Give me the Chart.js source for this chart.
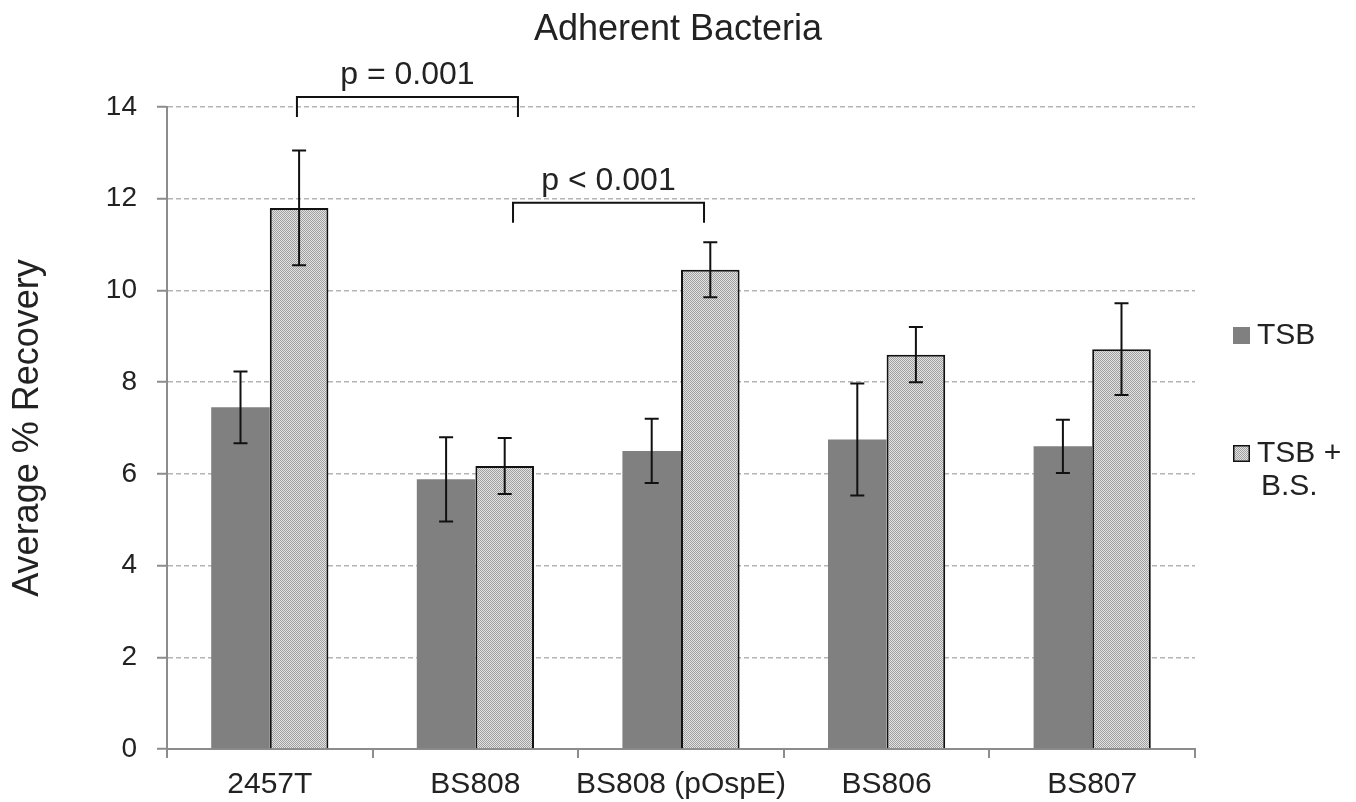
<!DOCTYPE html>
<html>
<head>
<meta charset="utf-8">
<script src="https://cdn.jsdelivr.net/npm/chart.js@4.4.1/dist/chart.umd.min.js"></script>
<style>
  html, body { margin: 0; padding: 0; background: #fff; }
  #wrap { width: 1356px; height: 802px; position: relative; }
</style>
</head>
<body>
<div id="wrap"><canvas id="chart" width="1356" height="802"></canvas></div>
<script>
  const strains = ['2457T', 'BS808', 'BS808 (pOspE)', 'BS806', 'BS807'];
  const tsbMean = [7.45, 5.88, 6.5, 6.75, 6.6];
  const tsbErr = [0.78, 0.92, 0.7, 1.22, 0.58];
  const bsMean = [11.8, 6.17, 10.45, 8.6, 8.72];
  const bsErr = [1.25, 0.61, 0.6, 0.6, 1.0];
  const yTicks = [0, 2, 4, 6, 8, 10, 12, 14];
  const pLabels = ['p = 0.001', 'p < 0.001'];
  const pPairs = [[0, 1], [1, 2]];
  const pLevels = [14.22, 11.91];

  const FONT = '"Liberation Sans", Arial, sans-serif';

  function dotPattern() {
    const c = document.createElement('canvas');
    c.width = 2; c.height = 2;
    const g = c.getContext('2d');
    g.fillStyle = '#e2e2e2';
    g.fillRect(0, 0, 2, 2);
    g.fillStyle = '#a0a0a0';
    g.fillRect(0, 0, 1, 1);
    g.fillRect(1, 1, 1, 1);
    return g.createPattern(c, 'repeat');
  }
  const hatch = dotPattern();

  // error bars, p-value brackets, legend and title
  const extras = {
    id: 'extras',
    afterDatasetsDraw(chart) {
      const ctx = chart.ctx;
      const y = chart.scales.y;
      ctx.save();
      ctx.strokeStyle = '#111';
      ctx.lineWidth = 2;
      [[0, tsbErr], [1, bsErr]].forEach(([di, errs]) => {
        const meta = chart.getDatasetMeta(di);
        meta.data.forEach((bar, i) => {
          const v = chart.data.datasets[di].data[i];
          const top = y.getPixelForValue(v + errs[i]);
          const bot = y.getPixelForValue(v - errs[i]);
          ctx.beginPath();
          ctx.moveTo(bar.x, top); ctx.lineTo(bar.x, bot);
          ctx.moveTo(bar.x - 7, top); ctx.lineTo(bar.x + 7, top);
          ctx.moveTo(bar.x - 7, bot); ctx.lineTo(bar.x + 7, bot);
          ctx.stroke();
        });
      });
      ctx.restore();
    },
    afterDraw(chart) {
      const ctx = chart.ctx;
      const x = chart.scales.x;
      const y = chart.scales.y;
      const area = chart.chartArea;
      const catW = (area.right - area.left) / strains.length;
      const ends = [[0.132, 0.207], [0.183, 0.112]];
      ctx.save();
      ctx.strokeStyle = '#111';
      ctx.lineWidth = 2;
      ctx.fillStyle = '#222';
      ctx.font = '32px ' + FONT;
      ctx.textAlign = 'center';
      ctx.textBaseline = 'alphabetic';
      pPairs.forEach((pair, k) => {
        const x0 = x.getPixelForValue(pair[0]) + ends[k][0] * catW;
        const x1 = x.getPixelForValue(pair[1]) + ends[k][1] * catW;
        const yl = y.getPixelForValue(pLevels[k]);
        ctx.beginPath();
        ctx.moveTo(x0, yl + 20); ctx.lineTo(x0, yl); ctx.lineTo(x1, yl); ctx.lineTo(x1, yl + 20);
        ctx.stroke();
        ctx.fillText(pLabels[k], (x0 + x1) / 2, yl - 13);
      });

      // title
      ctx.font = '36px ' + FONT;
      ctx.fillText('Adherent Bacteria', chart.width / 2, 40);

      // legend
      ctx.textAlign = 'left';
      ctx.font = '30px ' + FONT;
      const lx = area.right + 38;
      ctx.fillStyle = '#808080';
      ctx.fillRect(lx, 327, 17, 17);
      ctx.fillStyle = '#222';
      ctx.fillText(chart.data.datasets[0].label, lx + 24, 344);
      ctx.fillStyle = hatch;
      ctx.fillRect(lx, 445, 17, 17);
      ctx.strokeStyle = '#111';
      ctx.lineWidth = 1.5;
      ctx.strokeRect(lx + 0.75, 445.75, 15.5, 15.5);
      ctx.fillStyle = '#222';
      ctx.fillText('TSB +', lx + 24, 462);
      ctx.fillText('B.S.', lx + 28, 495);
      ctx.restore();
    }
  };

  new Chart(document.getElementById('chart'), {
    type: 'bar',
    data: {
      labels: strains,
      datasets: [
        { label: 'TSB', data: tsbMean, backgroundColor: '#808080', borderWidth: 0,
          categoryPercentage: 0.57, barPercentage: 1.0 },
        { label: 'TSB + B.S.', data: bsMean, backgroundColor: hatch, borderColor: '#111', borderWidth: 2,
          categoryPercentage: 0.57, barPercentage: 1.0 }
      ]
    },
    options: {
      responsive: false,
      animation: false,
      layout: { padding: { left: 0, top: 107, right: 161, bottom: 0 } },
      plugins: { legend: { display: false }, title: { display: false }, tooltip: { enabled: false } },
      scales: {
        x: {
          afterFit: (s) => { s.height = 53; },
          grid: { display: true, drawOnChartArea: false, drawTicks: true, tickLength: 9, color: '#8c8c8c', lineWidth: 2, offset: true },
          border: { color: '#8c8c8c', width: 2 },
          ticks: { color: '#222', font: { family: FONT, size: 30 }, padding: 9, maxRotation: 0, autoSkip: false }
        },
        y: {
          min: 0,
          max: 14,
          afterFit: (s) => { s.width = 167; },
          afterBuildTicks: (s) => { s.ticks = yTicks.map((v) => ({ value: v })); },
          grid: { color: '#b4b4b4', lineWidth: 1.5, tickLength: 10, tickColor: '#8c8c8c', tickWidth: 2, tickBorderDash: [] },
          border: { color: '#8c8c8c', width: 2, dash: [5, 3] },
          ticks: { color: '#222', font: { family: FONT, size: 28 }, padding: 20 },
          title: { display: true, text: 'Average % Recovery', color: '#222', font: { family: FONT, size: 36 }, padding: { top: 6, bottom: 4 } }
        }
      }
    },
    plugins: [extras]
  });
</script>
</body>
</html>
